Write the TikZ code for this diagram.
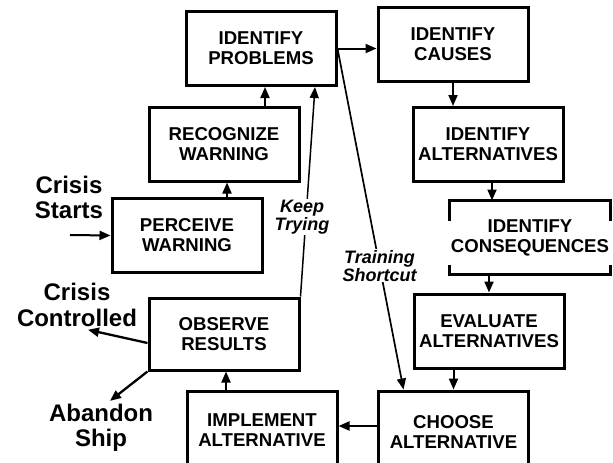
\documentclass[tikz,border=0pt]{standalone}
\usepackage{fontspec}
\setmainfont{Liberation Sans}
\usetikzlibrary{arrows.meta}
\begin{document}
\begin{tikzpicture}[x=1pt,y=-1pt,
  box/.style={draw, line width=3pt, outer sep=1.5pt, minimum width=150pt,
    minimum height=74pt, inner sep=0pt, align=center,
    font=\fontsize{18.6}{20}\selectfont\bfseries},
  bracketed/.style={box, draw=none},
  arr/.style={line width=2pt, -{Triangle[length=11pt,width=9pt]}},
  side/.style={align=center, inner sep=3pt,
    font=\fontsize{24}{25.5}\selectfont\bfseries},
  note/.style={align=center, inner sep=1pt, fill=white,
    font=\fontsize{18}{18}\selectfont\bfseries\itshape}]

\useasboundingbox (0,0) rectangle (613,463);
\fill[white] (0,0) rectangle (613,463);
\clip (0,0) rectangle (613,463);

% process steps
\node[box] (prob) at (261,48.5) {IDENTIFY\\PROBLEMS};
\node[box] (causes) at (453,44) {IDENTIFY\\CAUSES};
\node[box] (alts) at (488,144.5) {IDENTIFY\\ALTERNATIVES};
\node[bracketed, minimum height=71pt] (cons) at (530,237.5) {IDENTIFY\\CONSEQUENCES};
\node[box] (eval) at (489,331) {EVALUATE\\ALTERNATIVES};
\node[box, minimum height=82pt] (choose) at (453.5,432) {CHOOSE\\ALTERNATIVE};
\node[box, minimum height=78pt] (impl) at (262,430) {IMPLEMENT\\ALTERNATIVE};
\node[box, minimum height=72pt] (obs) at (224,334) {OBSERVE\\RESULTS};
\node[box] (perc) at (187,235.5) {PERCEIVE\\WARNING};
\node[box] (recog) at (224,144) {RECOGNIZE\\WARNING};

% bracket frame around the consequences step
\draw[line width=3pt] ([yshift=-20pt]cons.north west) -- (cons.north west)
  -- (cons.north east) -- ([yshift=-20pt]cons.north east);
\draw[line width=3pt] ([yshift=10pt]cons.south west) -- (cons.south west)
  -- (cons.south east) -- ([yshift=10pt]cons.south east);

% entry and exit labels
\node[side] (cstart) at (69,197.5) {Crisis\\Starts};
\node[side] (cctrl) at (77,305) {Crisis\\Controlled};
\node[side] (aband) at (101,428) {Abandon\\Ship};
\coordinate (entry) at (70,235);

% main flow
\draw[arr] (entry) -- (perc.west);
\draw[arr] ([xshift=3pt]recog.south |- perc.north) -- ([xshift=3pt]recog.south);
\draw[arr] ([xshift=4pt]prob.south |- recog.north) -- ([xshift=4pt]prob.south);
\draw[arr] (prob.east) -- (prob.east -| causes.west);
\draw[arr] (causes.south) -- (causes.south |- alts.north);
\draw[arr] ([xshift=4pt]alts.south) -- ([xshift=4pt]alts.south |- cons.north);
\draw[arr] (eval.north |- cons.south) -- (eval.north);
\draw[arr] (choose.north |- eval.south) -- (choose.north);
\draw[arr] ([yshift=6pt]choose.west) -- ([yshift=6pt]choose.west -| impl.east);
\draw[arr] ([xshift=2pt]obs.south |- impl.north) -- ([xshift=2pt]obs.south);

% outcomes
\draw[arr, line width=2.3pt] ([yshift=-9pt]obs.west) -- ([xshift=11pt]cctrl.south);
\draw[arr, line width=2.3pt] (obs.south west) -- ([xshift=9pt]aband.north);

% loops
\draw[arr, line width=1.5pt] (obs.north east) --
  node[note, pos=0.38, xshift=-4pt] {Keep\\Trying} ([xshift=54pt]prob.south);
\draw[arr, line width=1.7pt] (prob.east) --
  node[note, pos=0.637] {Training\\Shortcut} ([xshift=-50pt]choose.north);
\end{tikzpicture}
\end{document}
